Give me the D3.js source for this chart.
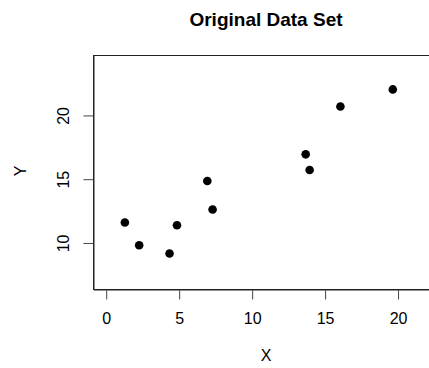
<!DOCTYPE html>
<html>
<head>
<meta charset="utf-8">
<script src="https://cdn.jsdelivr.net/npm/d3@7"></script>
<style>
  body { margin: 0; background: #fff; }
  text { font-family: "Liberation Sans", Arial, sans-serif; fill: #000; }
</style>
</head>
<body>
<div id="chart"></div>
<script>
// data
const xValues = [1.28, 2.26, 4.34, 4.85, 7.29, 6.93, 13.67, 13.94, 16.05, 19.64];
const yValues = [11.60, 9.82, 9.17, 11.39, 12.62, 14.86, 16.95, 15.72, 20.70, 22.04];
const xTicks = [0, 5, 10, 15, 20];
const yTicks = [10, 15, 20];

const width = 429;
const height = 368;
const box = { left: 93.5, top: 55.5, right: 436, bottom: 289.5 };

const svg = d3.select('#chart').append('svg')
  .attr('width', width)
  .attr('height', height);

// scales
const x = d3.scaleLinear()
  .domain([-0.87, 22.6])
  .range([box.left, box.right]);

const y = d3.scaleLinear()
  .domain([6.35, 24.7])
  .range([box.bottom, box.top]);

// plot frame
svg.append('rect')
  .attr('x', box.left)
  .attr('y', box.top)
  .attr('width', box.right - box.left)
  .attr('height', box.bottom - box.top)
  .attr('fill', 'none')
  .attr('stroke', '#222')
  .attr('stroke-width', 1);

// x axis
const xAxis = svg.append('g')
  .attr('transform', `translate(0, ${box.bottom})`)
  .call(d3.axisBottom(x).tickValues(xTicks).tickSize(10).tickPadding(13).tickSizeOuter(0));
xAxis.selectAll('.domain').attr('stroke', '#222');
xAxis.selectAll('line').attr('stroke', '#444');
xAxis.selectAll('text').attr('font-size', 16).attr('fill', '#000');

// y axis, labels rotated like R
const yAxis = svg.append('g')
  .attr('transform', `translate(${box.left}, 0)`)
  .call(d3.axisLeft(y).tickValues(yTicks).tickSize(10).tickSizeOuter(0));
yAxis.selectAll('.domain').attr('stroke', '#222');
yAxis.selectAll('line').attr('stroke', '#444');
yAxis.selectAll('text')
  .attr('font-size', 16)
  .attr('fill', '#000')
  .attr('text-anchor', 'middle')
  .attr('x', 0)
  .attr('transform', 'translate(-30, 0) rotate(-90)')
  .attr('dy', '0.35em');

// points
svg.append('g')
  .selectAll('circle')
  .data(xValues.map((d, i) => ({ x: d, y: yValues[i] })))
  .enter().append('circle')
  .attr('cx', d => x(d.x))
  .attr('cy', d => y(d.y))
  .attr('r', 4.3)
  .attr('fill', '#000');

// titles
svg.append('text')
  .attr('x', 266)
  .attr('y', 19)
  .attr('dy', '0.35em')
  .attr('text-anchor', 'middle')
  .attr('font-size', 19)
  .attr('font-weight', 'bold')
  .text('Original Data Set');

svg.append('text')
  .attr('x', 266)
  .attr('y', 355)
  .attr('dy', '0.35em')
  .attr('text-anchor', 'middle')
  .attr('font-size', 16)
  .text('X');

svg.append('text')
  .attr('transform', 'translate(20, 171) rotate(-90)')
  .attr('dy', '0.35em')
  .attr('text-anchor', 'middle')
  .attr('font-size', 16)
  .text('Y');
</script>
</body>
</html>
